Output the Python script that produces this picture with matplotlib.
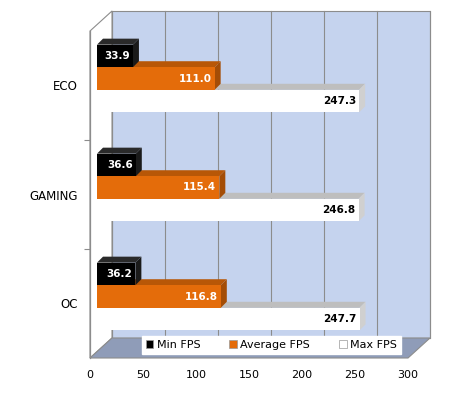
import numpy as np
import matplotlib.pyplot as plt
from matplotlib.patches import Polygon, Rectangle
from matplotlib.transforms import ScaledTranslation, IdentityTransform

modes = ["ECO", "GAMING", "OC"]
series = ["Min FPS", "Average FPS", "Max FPS"]
min_fps = [33.9, 36.6, 36.2]
avg_fps = [111.0, 115.4, 116.8]
max_fps = [247.3, 246.8, 247.7]
xticks = [0, 50, 100, 150, 200, 250, 300]

front_c = ["#000000", "#E46C0A", "#FFFFFF"]
top_c = ["#2a2a2a", "#B85707", "#BEBEBE"]
side_c = ["#1a1a1a", "#A44D06", "#D0D0D0"]
txt_c = ["white", "white", "black"]

DPI = 100
fig = plt.figure(figsize=(4.5, 3.95), dpi=DPI)
ax = fig.add_axes([90/450, 37/395, 318/450, 327/395])
ax.set_xlim(0, 300)
ax.set_ylim(2.5, -0.5)
ax.patch.set_visible(False)
for s in ax.spines.values():
    s.set_visible(False)

DX, DY = 22, 20   # depth of the box in pixels
BX, BY = 7, 7     # bars sit this far back
BD = 6            # bar depth


def shift(dx, dy):
    return ax.transData + ScaledTranslation(dx/DPI, dy/DPI, fig.dpi_scale_trans)


def disp(x, y, dx=0, dy=0):
    X, Y = ax.transData.transform((x, y))
    return (X + dx, Y + dy)


def poly(pts, fc, ec="none", lw=0.6, z=1):
    p = Polygon(pts, closed=True, facecolor=fc, edgecolor=ec, lw=lw,
                transform=IdentityTransform(), zorder=z, clip_on=False)
    ax.add_patch(p)


# back wall
ax.add_patch(Rectangle((0, -0.5), 300, 3, facecolor="#C5D3EE", edgecolor="#8c8c8c",
                       lw=0.8, transform=shift(DX, DY), zorder=0, clip_on=False))
for t in xticks:
    ax.plot([t, t], [-0.5, 2.5], color="#8c8c8c", lw=0.8, transform=shift(DX, DY),
            zorder=0.5, clip_on=False)

# left wall and floor
poly([disp(0, -0.5), disp(0, -0.5, DX, DY), disp(0, 2.5, DX, DY), disp(0, 2.5)],
     "white", "#8c8c8c", 0.8, 0.6)
poly([disp(0, 2.5), disp(0, 2.5, DX, DY), disp(300, 2.5, DX, DY), disp(300, 2.5)],
     "#8F9CB8", "#8c8c8c", 0.8, 0.6)
ax.plot([0, 0], [-0.5, 2.5], color="#8c8c8c", lw=0.9, zorder=0.7, clip_on=False)

# bars (upper bar drawn last so it hides the top face of the one below)
h = 0.207
vals = [min_fps, avg_fps, max_fps]
y = np.arange(len(modes))
for i, v in enumerate(vals):
    z = 8 - 2 * i
    yy = y + (i - 1) * h
    ax.barh(yy, v, height=h, color=front_c[i], transform=shift(BX, BY), zorder=z)
    for yc, val in zip(yy, v):
        t0 = yc - h/2
        t1 = yc + h/2
        poly([disp(0, t0, BX, BY), disp(val, t0, BX, BY),
              disp(val, t0, BX + BD, BY + BD), disp(0, t0, BX + BD, BY + BD)],
             top_c[i], z=z - 0.5)
        poly([disp(val, t0, BX, BY), disp(val, t1, BX, BY),
              disp(val, t1, BX + BD, BY + BD), disp(val, t0, BX + BD, BY + BD)],
             side_c[i], z=z - 0.5)
        ax.text(val, yc, f"{val:.1f}", transform=shift(BX - 3, BY), ha="right",
                va="center", fontsize=7.5, fontweight="bold", color=txt_c[i],
                zorder=10)

ax.set_xticks(xticks)
ax.set_yticks(y)
ax.set_yticklabels(modes)
ax.set_yticks([0.5, 1.5], minor=True)
ax.tick_params(axis="x", length=0, pad=9, labelsize=8)
ax.tick_params(axis="y", which="major", length=0, pad=9, labelsize=8.5)
ax.tick_params(axis="y", which="minor", length=4, color="#8c8c8c", width=0.8)

# legend on the floor
handles = [Rectangle((0, 0), 1, 1, facecolor=front_c[i], edgecolor="#999999", lw=0.5)
           for i in range(3)]
leg = ax.legend(handles, series, loc="lower center", bbox_to_anchor=(0.57, -0.005),
                ncol=3, fontsize=8, frameon=True, fancybox=False, framealpha=1,
                edgecolor="white", handlelength=0.7, handleheight=0.7,
                handletextpad=0.3, columnspacing=2.6, borderpad=0.35)
leg.set_zorder(20)

fig.savefig("out.png", dpi=DPI)
